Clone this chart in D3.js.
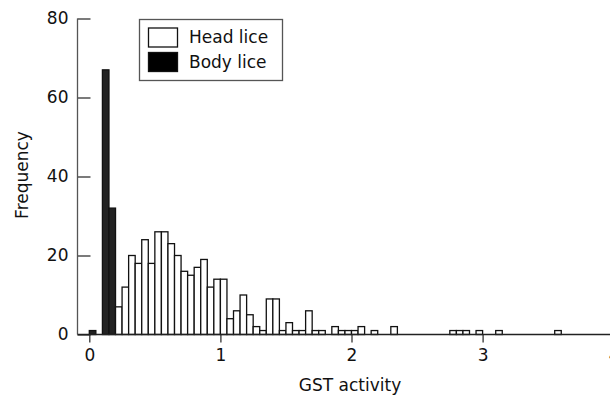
<!DOCTYPE html>
<html>
<head>
<meta charset="utf-8">
<script src="https://cdn.jsdelivr.net/npm/d3@7"></script>
<style>
  body { margin: 0; background: #fff; }
  svg { display: block; }
  text { font-family: "DejaVu Sans", sans-serif; fill: #111; }
</style>
</head>
<body>
<div id="chart"></div>
<script>
// histogram bins of width 0.05 (bin start -> count)
var binWidth = 0.05;
var headBins = [0.20, 0.25, 0.30, 0.35, 0.40, 0.45, 0.50, 0.55, 0.60, 0.65,
                0.70, 0.75, 0.80, 0.85, 0.90, 0.95, 1.00, 1.05, 1.10, 1.15,
                1.20, 1.25, 1.30, 1.35, 1.40, 1.45, 1.50, 1.55, 1.60, 1.65,
                1.70, 1.75, 1.85, 1.90, 1.95, 2.00, 2.05, 2.15, 2.30, 2.75,
                2.80, 2.85, 2.95, 3.10, 3.55];
var headCounts = [7, 12, 20, 18, 24, 18, 26, 26, 23, 20,
                  16, 15, 17, 19, 12, 14, 14, 4, 6, 10,
                  5, 2, 1, 9, 9, 1, 3, 1, 1, 6,
                  1, 1, 2, 1, 1, 1, 2, 1, 2, 1,
                  1, 1, 1, 1, 1];
var bodyBins = [0.00, 0.10, 0.15];
var bodyCounts = [1, 67, 32];

var xTicks = [0, 1, 2, 3, 4];
var yTicks = [0, 20, 40, 60, 80];
var legendLabels = ["Head lice", "Body lice"];

var width = 610, height = 399;
var svg = d3.select("#chart").append("svg").attr("width", width).attr("height", height);

var x = d3.scaleLinear().domain([0, 4]).range([89.3, 613.7]);
var y = d3.scaleLinear().domain([0, 80]).range([334.5, 18.5]);
var axisLeftX = 77.5;

var head = headBins.map(function (b, i) { return { x0: b, n: headCounts[i] }; });
var body = bodyBins.map(function (b, i) { return { x0: b, n: bodyCounts[i] }; });

function drawBars(data, fill, cls) {
  svg.append("g").attr("class", cls)
    .selectAll("rect").data(data).enter().append("rect")
    .attr("x", function (d) { return x(d.x0); })
    .attr("width", function (d) { return x(d.x0 + binWidth) - x(d.x0); })
    .attr("y", function (d) { return y(d.n); })
    .attr("height", function (d) { return y(0) - y(d.n); })
    .attr("fill", fill)
    .attr("stroke", "#111")
    .attr("stroke-width", 1.3);
}
drawBars(body, "#222", "body");
drawBars(head, "#fff", "head");

// y axis, ticks pointing inward
var gy = svg.append("g").attr("transform", "translate(" + axisLeftX + ",0)")
  .call(d3.axisLeft(y).tickValues(yTicks).tickSizeInner(-13).tickSizeOuter(0).tickPadding(9));
gy.select(".domain").remove();
gy.selectAll(".tick line").attr("stroke", "#333").attr("stroke-width", 1.3);
gy.selectAll(".tick text").style("font-size", "17px");
svg.append("line").attr("x1", axisLeftX).attr("x2", axisLeftX)
  .attr("y1", y(80)).attr("y2", y(0))
  .attr("stroke", "#555").attr("stroke-width", 1.3);

// x axis
var gx = svg.append("g").attr("transform", "translate(0," + y(0) + ")")
  .call(d3.axisBottom(x).tickValues(xTicks).tickFormat(d3.format("d")).tickSize(8).tickPadding(6));
gx.select(".domain").remove();
gx.selectAll(".tick line").attr("stroke", "#333").attr("stroke-width", 1.3);
gx.selectAll(".tick text").style("font-size", "17px");
svg.append("line").attr("x1", axisLeftX).attr("x2", width)
  .attr("y1", y(0)).attr("y2", y(0))
  .attr("stroke", "#222").attr("stroke-width", 1.6);

// axis titles
svg.append("text").attr("x", 350).attr("y", 391)
  .attr("text-anchor", "middle").style("font-size", "17px").text("GST activity");
svg.append("text")
  .attr("transform", "translate(28,175) rotate(-90)")
  .attr("text-anchor", "middle").style("font-size", "17px").text("Frequency");

// legend
var lg = svg.append("g").attr("transform", "translate(139.5,19.5)");
lg.append("rect").attr("width", 143).attr("height", 61)
  .attr("fill", "#fff").attr("stroke", "#555").attr("stroke-width", 1.3);
var fills = ["#fff", "#000"];
legendLabels.forEach(function (t, i) {
  lg.append("rect").attr("x", 9).attr("y", 8.5 + i * 24.5).attr("width", 29).attr("height", 19)
    .attr("fill", fills[i]).attr("stroke", "#111").attr("stroke-width", 1.3);
  lg.append("text").attr("x", 49.5).attr("y", 18 + i * 24.5).attr("dy", "0.35em")
    .style("font-size", "17px").text(t);
});
</script>
</body>
</html>
